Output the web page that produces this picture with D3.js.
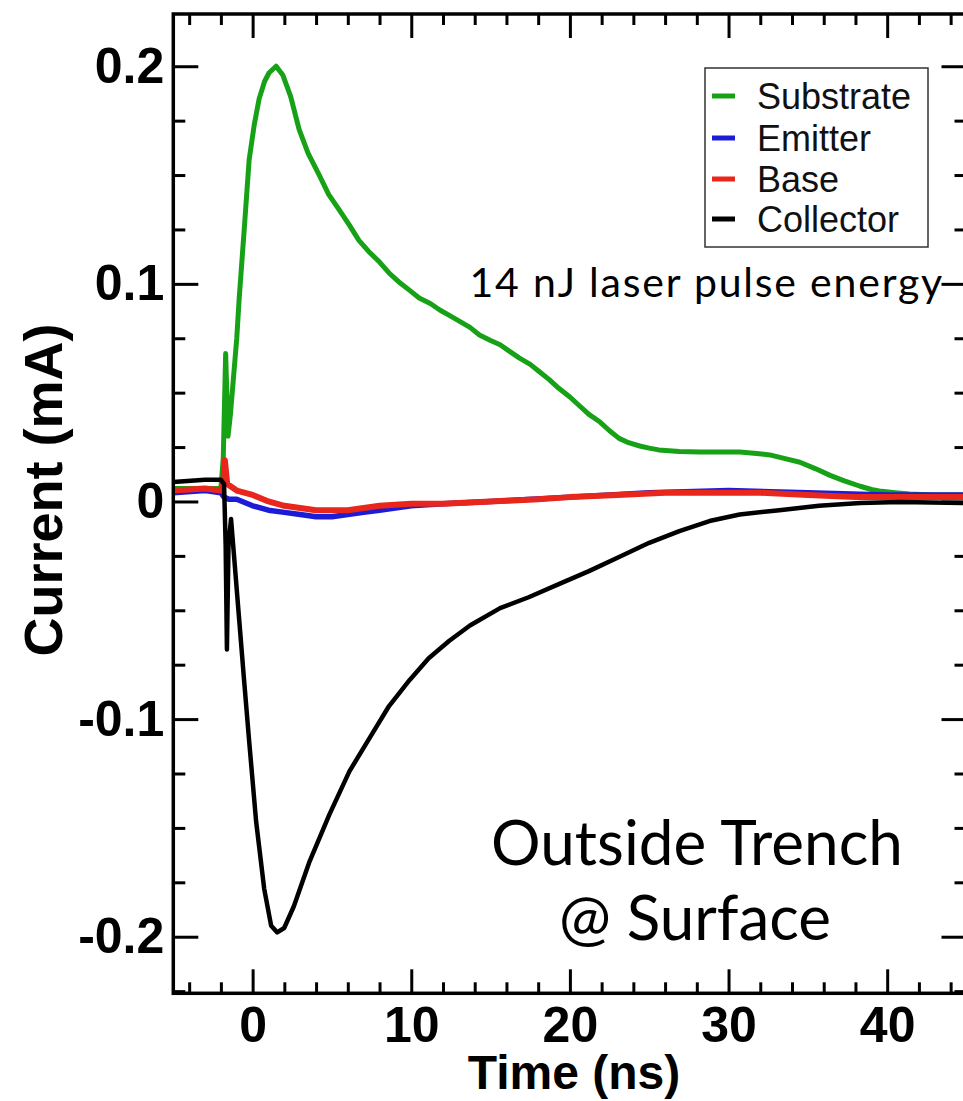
<!DOCTYPE html>
<html><head><meta charset="utf-8">
<script src="https://cdn.jsdelivr.net/npm/d3@7"></script>
<style>body{margin:0;background:#fff}</style>
</head><body><svg id="c" width="963" height="1101"></svg>
<script>
// ---- data ----
const substrateT = [-5,-3,-2.0,-1.85,-1.7,-1.55,-1.4,-1.0,-0.85,-0.5,-0.22,0.1,0.41,0.75,1.04,1.48,1.9,2.4,2.93,3.5,4.2,4.8,5.46,6.1,6.7,7.3,8.0,8.6,9.2,9.9,10.5,11.2,11.8,12.4,13.0,13.7,14.3,15.0,15.6,16.2,16.8,17.5,18.1,18.7,19.3,20.0,20.6,21.2,21.9,22.5,23.1,23.7,24.4,25.0,25.6,26.9,28.2,29.5,30.7,31.6,32.6,33.5,34.5,35.5,36.4,37.3,38.3,39.0,39.5,40.5,41.4,43.0,45];
const substrateV = [0.006,0.006,0.006,0.02,0.068,0.03,0.04,0.075,0.093,0.128,0.157,0.173,0.185,0.193,0.197,0.2,0.196,0.186,0.171,0.16,0.15,0.141,0.134,0.127,0.12,0.115,0.11,0.105,0.101,0.097,0.0935,0.091,0.088,0.0855,0.083,0.08,0.0765,0.074,0.072,0.069,0.066,0.063,0.0595,0.056,0.052,0.048,0.044,0.040,0.0365,0.0325,0.029,0.027,0.0255,0.0245,0.0237,0.023,0.0227,0.0227,0.0227,0.0222,0.0214,0.0198,0.018,0.015,0.012,0.0095,0.007,0.0055,0.0048,0.004,0.0034,0.003,0.003];

const emitterT = [-5,-3,-2,-1.8,-1.5,-1,0,1,2,3,4,5,6,7,8,10,12,15,20,25,30,35,40,45];
const emitterV = [0.004,0.005,0.004,0.002,0.001,0.001,-0.002,-0.004,-0.005,-0.006,-0.007,-0.007,-0.006,-0.005,-0.004,-0.002,-0.001,0.0,0.002,0.004,0.005,0.004,0.003,0.003];

const baseT = [-5,-3,-2,-1.85,-1.75,-1.6,-1,0,1,2,3,4,5,6,7,8,10,12,15,18,20,23,26,29,32,35,38,41,45];
const baseV = [0.005,0.006,0.005,0.008,0.019,0.008,0.005,0.003,0.0,-0.002,-0.003,-0.004,-0.004,-0.004,-0.003,-0.002,-0.001,-0.001,0.0,0.001,0.002,0.003,0.004,0.004,0.004,0.003,0.002,0.002,0.002];

const collectorT = [-5,-3,-2,-1.8,-1.7,-1.62,-1.52,-1.36,-0.85,-0.54,-0.22,0.22,0.73,1.17,1.55,1.99,2.6,3.56,4.83,6.1,7.35,8.6,9.9,11.1,12.4,13.7,15.6,17.4,19.3,21.2,23.1,25.0,26.9,28.8,30.7,33.2,35.7,38.3,40.8,45];
const collectorV = [0.009,0.01,0.01,0.008,-0.02,-0.068,-0.02,-0.008,-0.054,-0.082,-0.11,-0.147,-0.178,-0.195,-0.198,-0.196,-0.186,-0.166,-0.144,-0.124,-0.109,-0.094,-0.082,-0.072,-0.064,-0.057,-0.049,-0.044,-0.038,-0.032,-0.0255,-0.019,-0.0136,-0.009,-0.006,-0.004,-0.002,-0.0007,-0.0002,-0.0007];

const seriesNames = ["Substrate","Emitter","Base","Collector"];
const seriesColors = ["#17a117","#1c1cd8","#e8261c","#000000"];

const xMajorTicks = [0,10,20,30,40];
const xMinorTicks = [-4,-2,2,4,6,8,12,14,16,18,22,24,26,28,32,34,36,38,42,44];
const yMajorTicks = [-0.2,-0.1,0,0.1,0.2];
const yTickLabels = ["-0.2","-0.1","0","0.1","0.2"];
const yMinorTicks = [-0.225,-0.175,-0.15,-0.125,-0.075,-0.05,-0.025,0.025,0.05,0.075,0.125,0.15,0.175];

const xTitle = "Time (ns)";
const yTitle = "Current (mA)";
const note1 = "14 nJ laser pulse energy";
const note2 = ["Outside Trench","@ Surface"];

// ---- drawing ----
const svg = d3.select("#c");
const L = 173.3, R = 966.5, T = 14, B = 993.3;
const x = d3.scaleLinear().domain([-5,45]).range([L,R]);
const y = d3.scaleLinear().domain([-0.226,0.224]).range([B,T]);

svg.append("rect").attr("width",963).attr("height",1101).attr("fill","#fff");
svg.append("clipPath").attr("id","clip").append("rect")
  .attr("x",L).attr("y",T).attr("width",R-L).attr("height",B-T);

const line = d3.line().x(d=>x(d[0])).y(d=>y(d[1]));
const series = [
  {T:substrateT,V:substrateV,w:5},
  {T:emitterT,V:emitterV,w:5.5},
  {T:baseT,V:baseV,w:6},
  {T:collectorT,V:collectorV,w:4.5}
];
const g = svg.append("g").attr("clip-path","url(#clip)");
series.forEach((s,i)=>{
  const pts = s.T.map((t,k)=>[t,s.V[k]]);
  g.append("path").datum(pts).attr("d",line)
    .attr("fill","none").attr("stroke",seriesColors[i])
    .attr("stroke-width",s.w).attr("stroke-linejoin","round");
});

// axes
function styleAxis(sel, tw){
  sel.selectAll(".domain").remove();
  sel.selectAll(".tick line").attr("stroke","#000").attr("stroke-width",tw);
  sel.selectAll("text").attr("font-family","'Liberation Sans', Arial, sans-serif")
     .attr("font-weight","bold").attr("font-size",50).attr("fill","#000");
}
const ax = [
  svg.append("g").attr("transform",`translate(0,${B})`).call(d3.axisBottom(x).tickValues(xMajorTicks).tickSize(-24).tickPadding(13).tickFormat(d3.format("d"))),
  svg.append("g").attr("transform",`translate(0,${B})`).call(d3.axisBottom(x).tickValues(xMinorTicks).tickSize(-11).tickFormat("")),
  svg.append("g").attr("transform",`translate(0,${T})`).call(d3.axisTop(x).tickValues(xMajorTicks).tickSize(-24).tickFormat("")),
  svg.append("g").attr("transform",`translate(0,${T})`).call(d3.axisTop(x).tickValues(xMinorTicks).tickSize(-11).tickFormat("")),
  svg.append("g").attr("transform",`translate(${L},0)`).call(d3.axisLeft(y).tickValues(yMajorTicks).tickSize(-25).tickPadding(9).tickFormat((d,i)=>yTickLabels[i])),
  svg.append("g").attr("transform",`translate(${L},0)`).call(d3.axisLeft(y).tickValues(yMinorTicks).tickSize(-12).tickFormat("")),
  svg.append("g").attr("transform",`translate(${R},0)`).call(d3.axisRight(y).tickValues(yMajorTicks).tickSize(-25).tickFormat("")),
  svg.append("g").attr("transform",`translate(${R},0)`).call(d3.axisRight(y).tickValues(yMinorTicks).tickSize(-12).tickFormat(""))
];
ax.forEach(a=>styleAxis(a,3));
svg.append("rect").attr("x",L).attr("y",T).attr("width",R-L).attr("height",B-T)
  .attr("fill","none").attr("stroke","#000").attr("stroke-width",3.5);

// titles
svg.append("text").attr("x",574).attr("y",1089).attr("text-anchor","middle")
  .attr("font-family","'Liberation Sans', Arial, sans-serif").attr("font-weight","bold")
  .attr("font-size",48).text(xTitle);
svg.append("text").attr("transform","translate(62,490) rotate(-90)").attr("text-anchor","middle")
  .attr("font-family","'Liberation Sans', Arial, sans-serif").attr("font-weight","bold")
  .attr("font-size",54).text(yTitle);

// legend
const lg = svg.append("g");
lg.append("rect").attr("x",705).attr("y",68).attr("width",223).attr("height",179)
  .attr("fill","#fff").attr("stroke","#333").attr("stroke-width",1.5);
seriesNames.forEach((n,i)=>{
  const ly = [96,138,179,219][i];
  lg.append("line").attr("x1",712).attr("x2",735).attr("y1",ly).attr("y2",ly)
    .attr("stroke",seriesColors[i]).attr("stroke-width",5);
  lg.append("text").attr("x",757).attr("y",ly+13).attr("font-size",36)
    .attr("font-family","'Liberation Sans', Arial, sans-serif").attr("fill","#111").text(n);
});

// annotations
svg.append("text").attr("x",944).attr("y",297).attr("text-anchor","end")
  .attr("font-family","Lato, 'Open Sans', sans-serif").attr("font-size",41)
  .attr("letter-spacing",1.8).text(note1);
svg.append("text").attr("x",697).attr("y",865).attr("text-anchor","middle")
  .attr("font-family","Lato, 'Open Sans', sans-serif").attr("font-size",62).text(note2[0]);
svg.append("text").attr("x",695).attr("y",940).attr("text-anchor","middle")
  .attr("font-family","Lato, 'Open Sans', sans-serif").attr("font-size",62).text(note2[1]);
</script></body></html>
